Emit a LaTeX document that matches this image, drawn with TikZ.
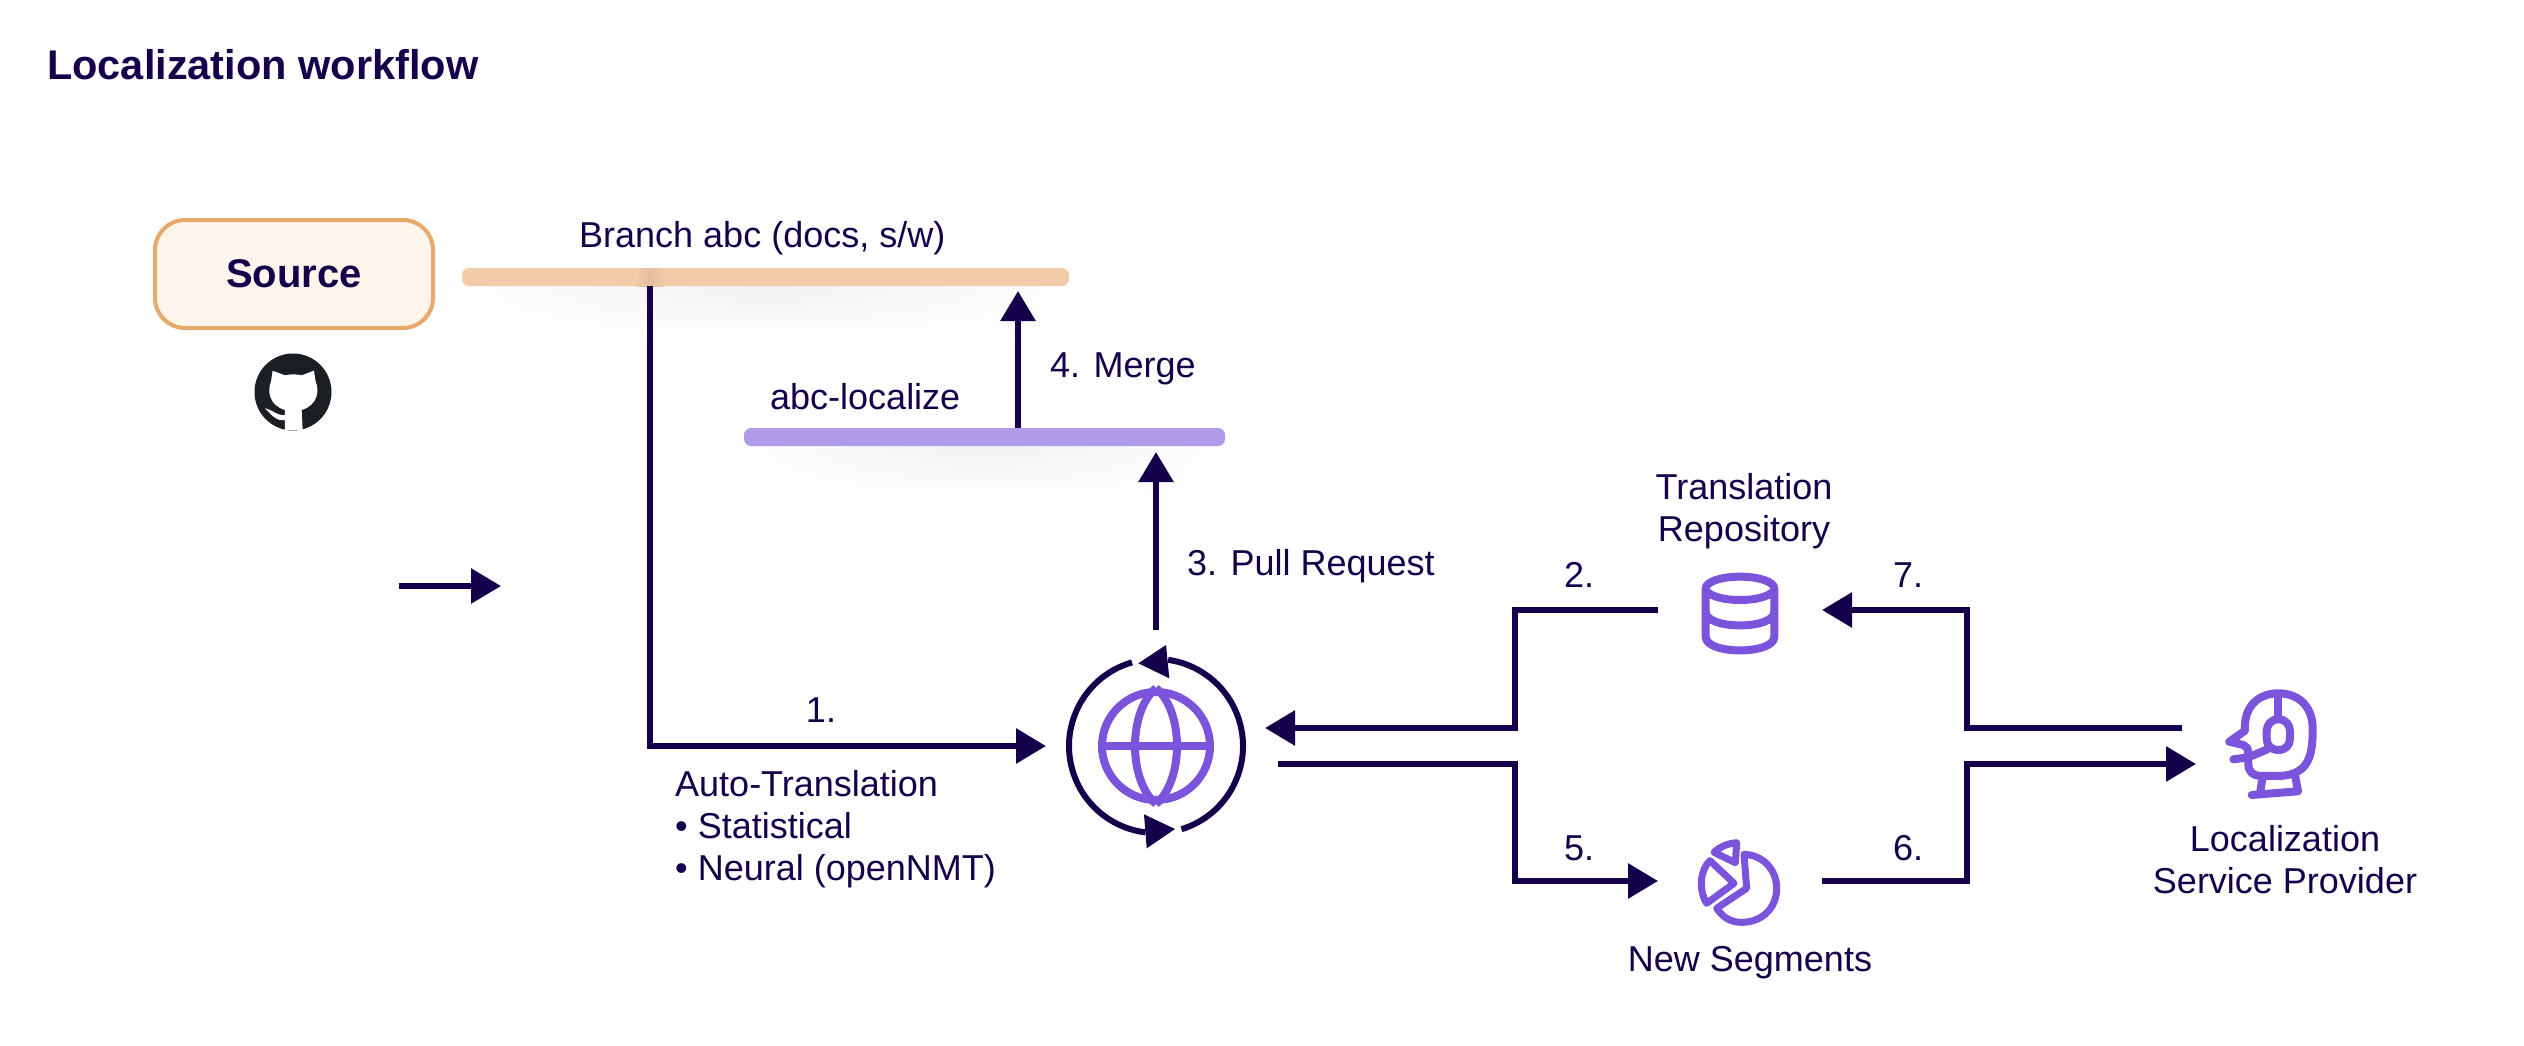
\documentclass[tikz,border=0pt]{standalone}
\usepackage{fontspec}
\setmainfont{Liberation Sans}
\usetikzlibrary{arrows.meta,fadings}
\definecolor{ink}{HTML}{14004B}
\definecolor{vio}{HTML}{7B54DB}
\definecolor{orline}{HTML}{E9A96B}
\definecolor{orfill}{HTML}{FDF4EC}
\definecolor{orbar}{HTML}{F2CBA9}
\definecolor{orbard}{HTML}{E3BD9E}
\definecolor{viobar}{HTML}{AF9BE8}
\definecolor{ghk}{HTML}{1B1F23}
\tikzfading[name=sidefade,left color=transparent!100,right color=transparent!100,middle color=transparent!0]
\tikzset{
  flow/.style={draw=ink,line width=6pt,-{Triangle[length=30pt,width=34pt]}},
  plain/.style={draw=ink,line width=6pt},
  icon/.style={draw=vio,line width=8pt,line cap=round,line join=round},
  icont/.style={draw=vio,line width=7pt,line join=round},
  lbl/.style={text=ink,inner sep=0pt,font=\fontsize{36}{42}\selectfont},
  lblc/.style={lbl,align=center},
  bar/.style={rounded corners=7pt,inner sep=0pt,minimum height=18pt},
}
\begin{document}
\begin{tikzpicture}[x=1pt,y=-1pt]
\useasboundingbox (0,0) rectangle (2524,1046);
\fill[white] (0,0) rectangle (2524,1046);

% title
\node[lbl,anchor=west,font=\fontsize{41.5}{46}\selectfont\bfseries] (title) at (47,65) {Localization workflow};

% source
\node[draw=orline,fill=orfill,line width=4pt,rounded corners=30pt,minimum width=278pt,minimum height=108pt,inner sep=0pt,text=ink,font=\fontsize{40}{44}\selectfont\bfseries] (source) at (294,274) {Source};

% github mark
\coordinate (gh) at (293,392);
\fill[ghk] (gh) circle[radius=38.5pt];
\begin{scope}[shift={(230,340)},x=0.3333pt,y=-0.3333pt]
\fill[white] (128,92) -- (165,106) .. controls (180,102) and (200,102) .. (215,106) -- (252,92) -- (257,125) .. controls (268,150) and (265,195) .. (215,210) -- (218,270) -- (165,270) -- (165,240) .. controls (140,245) and (125,225) .. (105,205) .. controls (130,210) and (140,228) .. (165,225) -- (165,210) .. controls (115,195) and (112,150) .. (123,125) -- cycle;
\end{scope}

% bar shadows
\shade[path fading=sidefade,top color=black!5,bottom color=white] (440,286) rectangle (1092,342);
\shade[path fading=sidefade,top color=black!5,bottom color=white] (722,446) rectangle (1248,500);

% bars
\node[bar,fill=orbar,minimum width=607pt] (branch) at (765.5,277) {};
\shade[left color=orbar,right color=orbar,middle color=orbard] (636,268) rectangle (664,286);
\node[bar,fill=viobar,minimum width=481pt] (loc) at (984.5,437) {};

% bar labels
\node[lbl,anchor=west] (lbranch) at (579,238) {Branch abc (docs, s/w)};
\node[lbl,anchor=west] (lloc) at (770,397) {abc-localize};

% globe icon
\coordinate (gc) at (1156,746);
\node[circle,draw=vio,line width=8pt,minimum size=108pt,inner sep=0pt] (globe) at (gc) {};
\draw[icon,line cap=butt] (globe.west) -- (globe.east);
\draw[icon,line cap=butt] (globe.north) .. controls (1128,712) and (1128,780) .. (globe.south);
\draw[icon,line cap=butt] (globe.north) .. controls (1184,712) and (1184,780) .. (globe.south);

% ring
\draw[plain] ([shift={(106:87pt)}]gc) arc[start angle=106,end angle=263,radius=87pt];
\draw[plain] ([shift={(-73:87pt)}]gc) arc[start angle=-73,end angle=82,radius=87pt];
\fill[ink] (1144,814.3) -- (1146.7,848.3) -- (1175,829) -- cycle;
\fill[ink] (1166,645) -- (1169.3,678.3) -- (1138.3,663.3) -- cycle;

% database icon
\coordinate (db) at (1740,610);
\begin{scope}[shift={(1600,580)},x=0.3333pt,y=-0.3333pt]
\draw[icon] (420,25) ellipse[x radius=103,y radius=35];
\draw[icon,line cap=butt] (317,25) -- (317,170) .. controls (317,225) and (523,225) .. (523,170) -- (523,25);
\draw[icon,line cap=butt] (317,95) .. controls (317,150) and (523,150) .. (523,95);
\end{scope}
\node[lblc] (ltr) at (1744,511) {Translation\\Repository};

% pie icon
\coordinate (pie) at (1742,888);
\begin{scope}[shift={(1660,820)},x=0.3333pt,y=-0.3333pt]
\draw[icont] (252,103) .. controls (310,105) and (350,150) .. (350,205) .. controls (350,265) and (305,307) .. (245,307) .. controls (215,307) and (190,295) .. (170,265) -- (260,205) -- cycle;
\draw[icont] (150,122) -- (222,190) -- (140,250) .. controls (115,210) and (120,150) .. (150,122) -- cycle;
\draw[icont] (162,97) .. controls (180,80) and (205,70) .. (230,68) -- (226,128) -- cycle;
\end{scope}
\node[lbl] (lseg) at (1750,963) {New Segments};

% head icon
\coordinate (head) at (2270,735);
\begin{scope}[shift={(2180,670)},x=0.3333pt,y=-0.3333pt]
\draw[icon] (148,215) -- (195,182) .. controls (190,110) and (235,70) .. (295,70) .. controls (365,70) and (400,120) .. (398,180) .. controls (398,260) and (385,318) .. (290,318) -- (245,318) .. controls (215,318) and (205,300) .. (205,285) -- (203,235) -- (190,225) -- cycle;
\draw[icon,line cap=butt] (295,70) -- (295,145);
\draw[icon] (295,148) .. controls (318,148) and (330,165) .. (330,185) -- (330,205) .. controls (330,225) and (318,240) .. (295,240) .. controls (272,240) and (260,225) .. (260,205) -- (260,185) .. controls (260,165) and (272,148) .. (295,148) -- cycle;
\draw[icon] (262,238) -- (205,262) -- (160,268);
\draw[icon,line cap=butt] (247,325) -- (240,372);
\draw[icon,line cap=butt] (345,315) -- (354,364);
\draw[icon] (215,375) -- (354,364);
\end{scope}
\node[lblc] (lprov) at (2285,860) {Localization\\Service Provider};

% connector end points
\coordinate (arrL) at (1046,746);
\coordinate (s1) at (650,286);
\coordinate (c1) at (650,746);
\coordinate (pr0) at (1156,630);
\coordinate (pr1) at (1156,452);
\coordinate (mg0) at (1018,428);
\coordinate (mg1) at (1018,291);
\coordinate (a2s) at (1658,610);
\coordinate (a2m) at (1515,610);
\coordinate (a2n) at (1515,728);
\coordinate (a2e) at (1265,728);
\coordinate (a5s) at (1278,764);
\coordinate (a5m) at (1515,764);
\coordinate (a5n) at (1515,881);
\coordinate (a5e) at (1658,881);
\coordinate (a6s) at (1822,881);
\coordinate (a6m) at (1967,881);
\coordinate (a6n) at (1967,764);
\coordinate (a6e) at (2196,764);
\coordinate (a7s) at (2182,728);
\coordinate (a7m) at (1967,728);
\coordinate (a7n) at (1967,610);
\coordinate (a7e) at (1822,610);
\coordinate (st0) at (399,586);
\coordinate (st1) at (501,586);

% connectors
\draw[flow] (s1) -- (c1) -- (arrL);
\draw[flow] (pr0) -- (pr1);
\draw[flow] (mg0) -- (mg1);
\draw[flow] (a2s) -- (a2m) -- (a2n) -- (a2e);
\draw[flow] (a5s) -- (a5m) -- (a5n) -- (a5e);
\draw[flow] (a6s) -- (a6m) -- (a6n) -- (a6e);
\draw[flow] (a7s) -- (a7m) -- (a7n) -- (a7e);
\draw[flow] (st0) -- (st1);

% labels
\node[lbl,anchor=west] (l4) at (1050,369) {4. Merge};
\node[lbl,anchor=west] (l3) at (1187,566) {3. Pull Request};
\node[lbl] (l2) at (1579,575) {2.};
\node[lbl] (l7) at (1908,575) {7.};
\node[lbl] (l1) at (821,710) {1.};
\node[lbl] (l5) at (1579,848) {5.};
\node[lbl] (l6) at (1908,848) {6.};
\node[lbl,anchor=west,align=left] (lauto) at (675,829) {Auto-Translation\\• Statistical\\• Neural (openNMT)};
\end{tikzpicture}
\end{document}
